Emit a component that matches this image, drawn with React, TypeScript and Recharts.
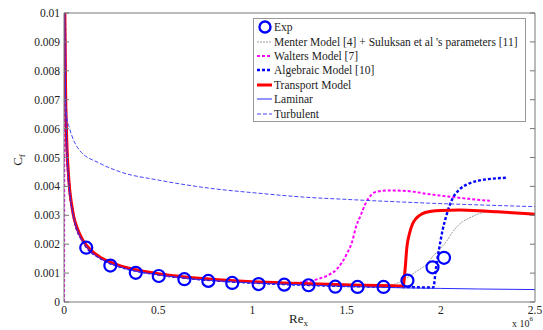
import React from 'react';
import { LineChart, Line, XAxis, YAxis, Legend } from 'recharts';

// ---- data (Re in units of 1e6, Cf) ----
const expRe = [0.118, 0.246, 0.381, 0.503, 0.639, 0.766, 0.893, 1.033, 1.169, 1.298, 1.44, 1.558, 1.696, 1.823, 1.956, 2.017];
const expCf = [0.00188, 0.00126, 0.00101, 0.0009, 0.00079, 0.00073, 0.00066, 0.00062, 0.0006, 0.00058, 0.00053, 0.00052, 0.00052, 0.00074, 0.0012, 0.00153];

const menterRe = [0.0044, 0.01, 0.02, 0.05, 0.1, 0.2, 0.3, 0.5, 0.7, 1.0, 1.3, 1.6, 1.72, 1.78, 1.83, 1.88, 1.92, 1.96, 1.99, 2.03, 2.06, 2.1, 2.15, 2.2, 2.25, 2.3, 2.4, 2.5];
const menterCf = [0.01, 0.0066, 0.0047, 0.003, 0.0021, 0.0015, 0.00122, 0.00095, 0.0008, 0.00068, 0.0006, 0.00056, 0.00057, 0.00068, 0.00088, 0.0011, 0.00128, 0.0016, 0.0018, 0.0021, 0.0024, 0.0027, 0.0029, 0.00305, 0.00312, 0.00314, 0.0031, 0.00306];

const waltersRe = [0, 0.0044, 0.01, 0.02, 0.05, 0.1, 0.2, 0.3, 0.5, 0.7, 1.0, 1.2, 1.3, 1.35, 1.4, 1.45, 1.5, 1.53, 1.55, 1.575, 1.6, 1.63, 1.66, 1.72, 1.8, 1.95, 2.05, 2.15, 2.26];
const waltersCf = [0, 0.0098, 0.0066, 0.0047, 0.003, 0.00212, 0.0015, 0.00123, 0.00096, 0.00081, 0.00069, 0.00066, 0.00072, 0.0008, 0.00092, 0.00115, 0.00165, 0.0021, 0.0026, 0.003, 0.0034, 0.0037, 0.00382, 0.00386, 0.00385, 0.00372, 0.00364, 0.00357, 0.0035];

const algebraicRe = [0.0044, 0.01, 0.02, 0.05, 0.1, 0.2, 0.3, 0.5, 0.7, 1.0, 1.3, 1.6, 1.8, 1.96, 1.975, 1.99, 2.01, 2.03, 2.06, 2.1, 2.15, 2.2, 2.28, 2.35];
const algebraicCf = [0.01, 0.0066, 0.0047, 0.003, 0.0021, 0.00149, 0.00122, 0.00095, 0.0008, 0.00067, 0.00059, 0.00054, 0.00052, 0.0005, 0.0012, 0.0018, 0.0025, 0.003, 0.00355, 0.0039, 0.0041, 0.0042, 0.00427, 0.0043];

const transportRe = [0.0044, 0.006, 0.008, 0.01, 0.015, 0.02, 0.03, 0.04, 0.05, 0.07, 0.1, 0.15, 0.2, 0.3, 0.4, 0.5, 0.6, 0.7, 0.8, 1.0, 1.2, 1.4, 1.6, 1.75, 1.8, 1.81, 1.82, 1.835, 1.85, 1.87, 1.9, 1.95, 2.0, 2.1, 2.2, 2.3, 2.4, 2.5];
const transportCf = [0.01, 0.0086, 0.0075, 0.0067, 0.0055, 0.0048, 0.0039, 0.0034, 0.003, 0.00256, 0.00214, 0.00175, 0.00152, 0.00125, 0.00109, 0.00098, 0.0009, 0.00083, 0.00078, 0.0007, 0.00065, 0.00061, 0.00058, 0.00056, 0.00055, 0.0011, 0.0019, 0.0024, 0.0027, 0.0029, 0.00305, 0.00314, 0.00317, 0.00318, 0.00316, 0.00312, 0.00308, 0.00304];

const laminarRe = [0.0044, 0.006, 0.008, 0.01, 0.015, 0.02, 0.03, 0.04, 0.05, 0.07, 0.1, 0.15, 0.2, 0.3, 0.4, 0.5, 0.6, 0.7, 0.8, 1.0, 1.2, 1.4, 1.6, 1.8, 2.0, 2.2, 2.5];
const laminarCf = [0.01, 0.00857, 0.00742, 0.00664, 0.00542, 0.0047, 0.00383, 0.00332, 0.00297, 0.00251, 0.0021, 0.00171, 0.00148, 0.00121, 0.00105, 0.00094, 0.00086, 0.00079, 0.00074, 0.00066, 0.00061, 0.00056, 0.00052, 0.00049, 0.00047, 0.00045, 0.00043];

const turbulentRe = [0.005, 0.015, 0.03, 0.08, 0.19, 0.3, 0.5, 0.77, 1.04, 1.25, 1.5, 1.94, 2.2, 2.5];
const turbulentCf = [0.007, 0.0064, 0.006, 0.00527, 0.0048, 0.0045, 0.00422, 0.00394, 0.00376, 0.00364, 0.00355, 0.00342, 0.00336, 0.0033];

const xTicks = [0, 0.5, 1, 1.5, 2, 2.5];
const yTicks = [0, 0.001, 0.002, 0.003, 0.004, 0.005, 0.006, 0.007, 0.008, 0.009, 0.01];

const legendNames = [
  'Exp',
  'Menter Model [4] + Suluksan et al \'s parameters [11]',
  'Walters Model [7]',
  'Algebraic Model [10]',
  'Transport Model',
  'Laminar',
  'Turbulent',
];

const zip = (xs: number[], ys: number[]) => xs.map((x, i) => ({ re: x, cf: ys[i] }));

const FONT = '"Liberation Serif", "DejaVu Serif", serif';
const AXIS = '#777';

const series = [
  { name: legendNames[0], data: zip(expRe, expCf), color: '#0000ff', width: 0, dash: undefined as string | undefined, marker: true },
  { name: legendNames[1], data: zip(menterRe, menterCf), color: '#9a9a9a', width: 1, dash: '2 1', marker: false },
  { name: legendNames[2], data: zip(waltersRe, waltersCf), color: '#ff00ff', width: 2, dash: '3 2', marker: false },
  { name: legendNames[3], data: zip(algebraicRe, algebraicCf), color: '#0000ff', width: 2.4, dash: '3 2', marker: false },
  { name: legendNames[4], data: zip(transportRe, transportCf), color: '#ff0000', width: 3, dash: undefined, marker: false },
  { name: legendNames[5], data: zip(laminarRe, laminarCf), color: '#2a2aff', width: 1, dash: undefined, marker: false },
  { name: legendNames[6], data: zip(turbulentRe, turbulentCf), color: '#4545ff', width: 1, dash: '4 2', marker: false },
];

const emptyTick = () => <g />;

const LegendBox = () => (
  <div
    style={{
      border: '1px solid #999',
      background: '#fff',
      fontFamily: FONT,
      fontSize: 11.5,
      color: '#222',
      padding: '1px 2px 1px 2px',
      boxSizing: 'border-box',
      width: 273,
      height: 104,
      overflow: 'hidden',
    }}
  >
    {series.map((s) => (
      <div key={s.name} style={{ display: 'flex', alignItems: 'center', height: 14.4, whiteSpace: 'nowrap' }}>
        <svg width={17} height={14} style={{ flex: 'none' }}>
          {s.marker ? (
            <circle cx={9} cy={7} r={5.5} fill="none" stroke={s.color} strokeWidth={2.4} />
          ) : (
            <line x1={1} y1={7} x2={16} y2={7} stroke={s.color} strokeWidth={s.width} strokeDasharray={s.dash} />
          )}
        </svg>
        <span style={{ marginLeft: 1 }}>{s.name}</span>
      </div>
    ))}
  </div>
);

export default function App() {
  return (
    <div style={{ position: 'absolute', left: 0, top: 0, width: 543, height: 330, background: '#fff' }}>
      <LineChart width={543} height={330} margin={{ top: 13, right: 8, left: 0, bottom: 0 }}>
        <XAxis
          dataKey="re"
          type="number"
          domain={[0, 2.5]}
          ticks={xTicks}
          allowDataOverflow
          height={28}
          tickLine={false}
          tickSize={2}
          tickMargin={2}
          axisLine={{ stroke: AXIS }}
          tick={{ fontFamily: FONT, fontSize: 11.5, fill: '#222' }}
          label={{
            content: () => (
              <g>
                <text x={289} y={323} fontFamily={FONT} fontSize={13} fill="#222">
                  Re<tspan dy={2.5} fontSize={9}>x</tspan>
                </text>
                <text x={512} y={327} fontFamily={FONT} fontSize={10} fill="#222">
                  x 10<tspan dy={-6} fontSize={7}>6</tspan>
                </text>
              </g>
            ),
          }}
        />
        <XAxis xAxisId="bIn" type="number" domain={[0, 2.5]} ticks={xTicks} allowDataOverflow orientation="bottom" mirror tickSize={5} tick={emptyTick} axisLine={false} tickLine={{ stroke: AXIS }} />
        <XAxis xAxisId="tIn" type="number" domain={[0, 2.5]} ticks={xTicks} allowDataOverflow orientation="top" mirror tickSize={5} tick={emptyTick} axisLine={{ stroke: AXIS }} tickLine={{ stroke: AXIS }} />
        <YAxis
          dataKey="cf"
          type="number"
          domain={[0, 0.01]}
          ticks={yTicks}
          allowDataOverflow
          width={64}
          tickLine={false}
          tickSize={2}
          tickMargin={2}
          axisLine={{ stroke: AXIS }}
          tickFormatter={(v: number) => String(Number(v.toFixed(3)))}
          tick={{ fontFamily: FONT, fontSize: 11.5, fill: '#222' }}
          label={{
            content: () => (
              <text x={22} y={160} transform="rotate(-90 22 160)" textAnchor="middle" fontFamily={FONT} fontSize={13} fill="#222">
                C<tspan dy={3} fontSize={9}>f</tspan>
              </text>
            ),
          }}
        />
        <YAxis yAxisId="lIn" type="number" domain={[0, 0.01]} ticks={yTicks} allowDataOverflow orientation="left" mirror tickSize={5} tick={emptyTick} axisLine={false} tickLine={{ stroke: AXIS }} />
        <YAxis yAxisId="rIn" type="number" domain={[0, 0.01]} ticks={yTicks} allowDataOverflow orientation="right" mirror tickSize={5} tick={emptyTick} axisLine={{ stroke: AXIS }} tickLine={{ stroke: AXIS }} />
        <Legend
          layout="vertical"
          align="center"
          verticalAlign="middle"
          content={() => <LegendBox />}
          wrapperStyle={{ left: 253, top: 18, width: 273, height: 104 }}
        />
        {series.map((s) =>
          s.marker ? (
            <Line
              key={s.name}
              name={s.name}
              data={s.data}
              dataKey="cf"
              stroke="none"
              isAnimationActive={false}
              dot={{ r: 6, stroke: s.color, strokeWidth: 2.2, fill: 'none' }}
              activeDot={false}
            />
          ) : (
            <Line
              key={s.name}
              name={s.name}
              data={s.data}
              dataKey="cf"
              type="monotone"
              stroke={s.color}
              strokeWidth={s.width}
              strokeDasharray={s.dash}
              dot={false}
              activeDot={false}
              isAnimationActive={false}
            />
          )
        )}
      </LineChart>
    </div>
  );
}
